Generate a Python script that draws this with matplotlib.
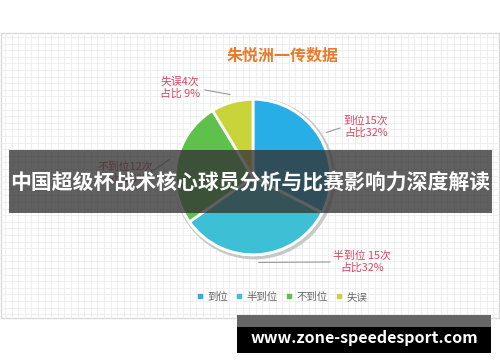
import numpy as np
import matplotlib

matplotlib.use("Agg")
import matplotlib.pyplot as plt
from matplotlib.patches import Rectangle
from matplotlib.lines import Line2D

plt.rcParams["font.family"] = ["Noto Sans CJK SC", "DejaVu Sans"]

# data
categories = ["到位", "半到位", "不到位", "失误"]
counts = [15, 15, 12, 4]
percents = [32, 32, 26, 9]
colors = ["#27AEE6", "#3DBFD5", "#5DC14B", "#C9D43A"]
chart_title = "朱悦洲一传数据"
banner_text = "中国超级杯战术核心球员分析与比赛影响力深度解读"
watermark = "www.zone-speedesport.com"

W, H = 500, 362
fig = plt.figure(figsize=(W / 100, H / 100), dpi=100)

# background panel in pixel coords
bg = fig.add_axes([0, 0, 1, 1], zorder=0)
bg.set_xlim(0, W)
bg.set_ylim(H, 0)
bg.axis("off")
px0, px1, py0, py1 = 1, 499, 33, 318
bg.add_patch(Rectangle((px0, py0), px1 - px0, py1 - py0, facecolor="white",
                       edgecolor="#d8d8d8", lw=1))
step = 6.6
for x in np.arange(px0 + 4, px1, step):
    bg.plot([x, x], [py0, py1], color="#ececec", lw=0.6)
for y in np.arange(py0 + 4, py1, step):
    bg.plot([px0, px1], [y, y], color="#ececec", lw=0.6)

bg.text(283, 56, chart_title, color="#E87B2B", fontsize=11.5, fontweight="bold",
        ha="center", va="center")

# pie
cx, cy, r = 253, 177, 84
pie_ax = fig.add_axes([(cx - r) / W, (H - cy - r) / H, 2 * r / W, 2 * r / H], zorder=1)
pie_ax.add_patch(plt.Circle((0.02, -0.02), 1.03, color="#c8c8c8", zorder=0))
pie_ax.add_patch(plt.Circle((0, 0), 1.01, color="white", zorder=0.5))
wedges, _ = pie_ax.pie(counts, colors=colors, startangle=90, counterclock=False,
                       wedgeprops=dict(edgecolor="white", linewidth=2))
pie_ax.set_aspect("equal")
pie_ax.set_xlim(-1.08, 1.08)
pie_ax.set_ylim(-1.08, 1.08)

# labels with leader lines (in pixel overlay)
ov = fig.add_axes([0, 0, 1, 1], zorder=2)
ov.set_xlim(0, W)
ov.set_ylim(H, 0)
ov.axis("off")
ov.patch.set_alpha(0)

label_pos = [(366, 127), (362, 262), (125, 173), (180, 88)]
line_end = [(340, 128), (330, 262), (150, 173), (205, 90)]
label_txt = [
    f"{categories[0]}{counts[0]}次\n占比{percents[0]}%",
    f"{categories[1]} {counts[1]}次\n占比{percents[1]}%",
    f"{categories[2]}{counts[2]}次\n占比{percents[2]}%",
    f"{categories[3]}{counts[3]}次\n占比 {percents[3]}%",
]
for w, pos, end, txt in zip(wedges, label_pos, line_end, label_txt):
    ang = np.deg2rad((w.theta1 + w.theta2) / 2)
    sx, sy = cx + r * 1.02 * np.cos(ang), cy - r * 1.02 * np.sin(ang)
    ov.plot([sx, end[0]], [sy, end[1]], color="#999999", lw=0.8, zorder=0.4)
    ov.text(pos[0], pos[1], txt, color="#D9455F", fontsize=7.8, ha="center",
            va="center", linespacing=1.2, zorder=0.5)

# legend
handles = [Line2D([], [], marker="s", color=c, ls="", markersize=3) for c in colors]
fig.legend(handles, categories, loc="center", bbox_to_anchor=(282 / W, 1 - 297 / H),
           ncol=4, frameon=False, fontsize=7.5, handlelength=0.6, handletextpad=0.4,
           columnspacing=0.8, labelcolor="#666666")

# banner
ov.add_patch(Rectangle((9, 150), 483, 63, facecolor="#333333", alpha=0.78, lw=0,
                       zorder=1))
ov.text(250, 182, banner_text, color="white", fontsize=15, fontweight="bold",
        ha="center", va="center", zorder=3)

# watermark
ov.add_patch(Rectangle((237, 315), 254, 12, facecolor="#666666", lw=0))
ov.add_patch(Rectangle((237, 327), 254, 26, facecolor="black", lw=0))
ov.text(364, 338, watermark, color="white", fontsize=11.5, fontweight="bold",
        ha="center", va="center")

fig.savefig("out.png", dpi=100)
